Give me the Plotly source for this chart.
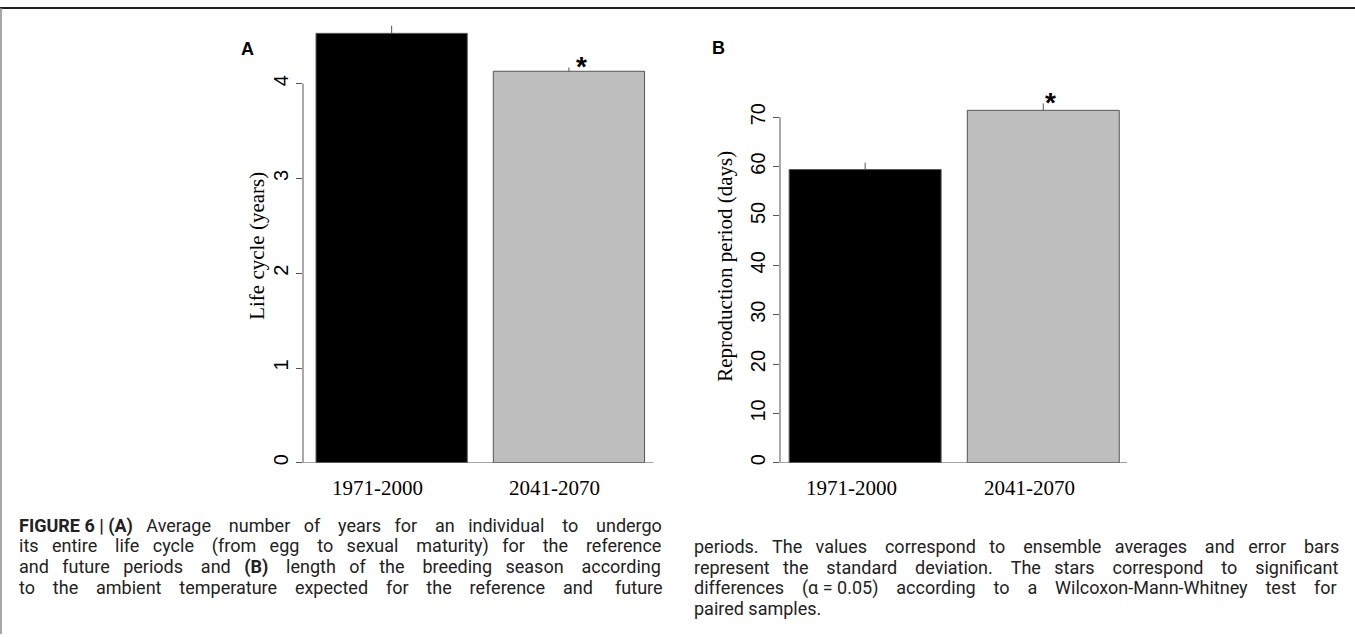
import plotly.graph_objects as go

# ---------------- data ----------------
periods = ["1971-2000", "2041-2070"]
life_cycle_mean = [4.53, 4.13]
life_cycle_sd = [0.08, 0.04]
repro_mean = [59.4, 71.4]
repro_sd = [1.4, 1.4]
bar_colors = ["#000000", "#BEBEBE"]
life_ticks = [0, 1, 2, 3, 4]
repro_ticks = [0, 10, 20, 30, 40, 50, 60, 70]

NB = "\u00a0"
left_lines = [
    f"<b>FIGURE{NB}6{NB}|{NB}(A)</b> Average number of years for an individual to undergo",
    "its entire life cycle (from egg to sexual maturity) for the reference",
    "and future periods and <b>(B)</b> length of the breeding season according",
    "to the ambient temperature expected for the reference and future",
]
right_lines = [
    "periods. The values correspond to ensemble averages and error bars",
    "represent the standard deviation. The stars correspond to significant",
    f"differences (\u03b1{NB}={NB}0.05) according to a Wilcoxon-Mann-Whitney test for",
    "paired samples.",
]
# extra word-spacing (in spaces) used to imitate the justified caption
left_extra = [23, 28, 24, 28]
right_extra = [22, 22, 21, 0]

W, H = 1355, 637


def px(x):
    return x / W


def py(y):
    return 1 - y / H


def justify(text, extra):
    words = text.split(" ")
    g = len(words) - 1
    if g <= 0 or extra <= 0:
        return text
    out = words[0]
    for i in range(g):
        n = (i + 1) * extra // g - i * extra // g
        out += " " + NB * n + words[i + 1]
    return out


fig = go.Figure()

# Panel A
fig.add_trace(go.Bar(
    x=periods, y=life_cycle_mean, xaxis="x", yaxis="y",
    marker=dict(color=bar_colors, line=dict(color="#555555", width=1)),
    error_y=dict(type="data", symmetric=False, array=life_cycle_sd,
                 arrayminus=[0, 0], color="#555555", thickness=1, width=0),
    showlegend=False, hoverinfo="skip"))
# Panel B
fig.add_trace(go.Bar(
    x=periods, y=repro_mean, xaxis="x2", yaxis="y2",
    marker=dict(color=bar_colors, line=dict(color="#555555", width=1)),
    error_y=dict(type="data", symmetric=False, array=repro_sd,
                 arrayminus=[0, 0], color="#555555", thickness=1, width=0),
    showlegend=False, hoverinfo="skip"))

tickfont = dict(family="Liberation Sans, Arial", size=20, color="#000")
common_x = dict(showticklabels=False, showline=False, showgrid=False,
                zeroline=False, ticks="", type="category", fixedrange=True)
common_y = dict(showline=False, showgrid=False, zeroline=False,
                ticks="outside", ticklen=6, tickwidth=1, tickcolor="#555555",
                tickangle=-90, tickfont=tickfont, fixedrange=True)

fig.update_layout(
    width=W, height=H,
    margin=dict(l=0, r=0, t=0, b=0),
    paper_bgcolor="white", plot_bgcolor="white",
    bargap=0.147,
    xaxis=dict(domain=[px(303), px(653.5)], range=[-0.5, 1.477], **common_x),
    yaxis=dict(domain=[py(465), py(20)], range=[0, (465 - 20) / 95.25],
               tickvals=life_ticks, anchor="x", **common_y),
    xaxis2=dict(domain=[px(780), px(1127)], range=[-0.478, 1.47], anchor="y2",
                **common_x),
    yaxis2=dict(domain=[py(465), py(20)], range=[0, (465 - 20) / 4.96],
                tickvals=repro_ticks, anchor="x2", **common_y),
)

shapes = []
for xr, yr, ticks in (("x", "y", life_ticks), ("x2", "y2", repro_ticks)):
    shapes.append(dict(type="line", xref=f"{xr} domain", yref=yr,
                       x0=0, x1=0, y0=ticks[0], y1=ticks[-1],
                       line=dict(color="#555555", width=1)))
    shapes.append(dict(type="line", xref=f"{xr} domain", yref=yr,
                       x0=0, x1=1, y0=0, y1=0,
                       line=dict(color="#555555", width=1)))
shapes.append(dict(type="line", xref="paper", yref="paper",
                   x0=0, x1=1, y0=py(8), y1=py(8),
                   line=dict(color="#222222", width=2)))
shapes.append(dict(type="line", xref="paper", yref="paper",
                   x0=px(1), x1=px(1), y0=py(8), y1=0,
                   line=dict(color="#888888", width=1.5)))
fig.update_layout(shapes=shapes)

ann = []
serif = "Liberation Serif, Times New Roman, serif"
for xr in ("x", "x2"):
    for p in periods:
        ann.append(dict(x=p, y=py(490), xref=xr, yref="paper", text=p,
                        showarrow=False, xshift=-14, yanchor="middle",
                        font=dict(family=serif, size=21, color="#000")))
ann.append(dict(x=px(243), y=py(247), xref="paper", yref="paper",
                text="Life cycle (years)", textangle=-90, showarrow=False,
                font=dict(family=serif, size=21, color="#000")))
ann.append(dict(x=px(725), y=py(268), xref="paper", yref="paper",
                text="Reproduction period (days)", textangle=-90,
                showarrow=False, font=dict(family=serif, size=21, color="#000")))
for letter, x, y in (("A", 239, 37), ("B", 718, 36)):
    ann.append(dict(x=px(x), y=py(y), xref="paper", yref="paper",
                    text=f"<b>{letter}</b>", showarrow=False,
                    font=dict(family="Liberation Sans, Arial", size=18,
                              color="#000")))
star_font = dict(family="Liberation Sans, Arial", size=28, color="#000")
ann.append(dict(x=periods[1], y=py(49), xref="x", yref="paper", text="<b>*</b>",
                showarrow=False, xshift=13, font=star_font))
ann.append(dict(x=periods[1], y=py(85), xref="x2", yref="paper", text="<b>*</b>",
                showarrow=False, xshift=7, font=star_font))

cap_font = dict(family="Roboto, Arial", size=18, color="#222")
for i, t in enumerate(left_lines):
    ann.append(dict(x=px(17), y=py(528 + 20.7 * i), xref="paper", yref="paper",
                    text=justify(t, left_extra[i]), showarrow=False,
                    xanchor="left", yanchor="middle", font=cap_font))
for i, t in enumerate(right_lines):
    ann.append(dict(x=px(692), y=py(549 + 20.7 * i), xref="paper",
                    yref="paper", text=justify(t, right_extra[i]),
                    showarrow=False, xanchor="left", yanchor="middle",
                    font=cap_font))

fig.update_layout(annotations=ann)
fig.write_html("out.html")
